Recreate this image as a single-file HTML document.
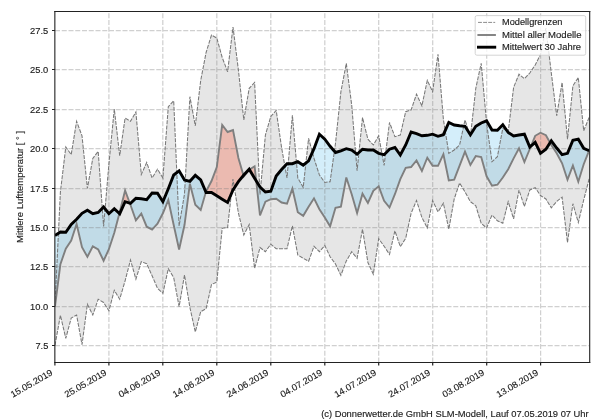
<!DOCTYPE html>
<html><head><meta charset="utf-8"><title>chart</title>
<style>html,body{margin:0;padding:0;background:#fff;width:600px;height:420px;overflow:hidden}</style></head>
<body>
<svg width="600" height="420" viewBox="0 0 600 420" style="position:absolute;left:0;top:0;will-change:transform;font-family:'Liberation Sans',sans-serif">
<rect width="600" height="420" fill="#fff"/>
<clipPath id="ax"><rect x="55.0" y="11.5" width="534.7" height="351.0"/></clipPath>
<g clip-path="url(#ax)">
<polygon points="55.0,305.0 60.4,192.0 65.8,147.0 71.2,154.6 76.6,121.3 82.0,135.8 87.4,188.4 92.8,158.4 98.2,151.4 103.6,226.5 108.9,164.0 114.3,109.0 119.7,155.8 125.1,118.0 130.5,121.3 135.9,112.0 141.3,174.5 146.7,162.5 152.1,178.0 157.5,169.2 162.9,178.0 168.3,106.7 173.7,100.8 179.1,226.0 184.5,194.0 189.9,96.7 195.3,125.8 200.7,80.5 206.1,52.5 211.5,35.0 216.8,38.0 222.2,57.5 227.6,71.7 233.0,27.0 238.4,70.0 243.8,120.0 249.2,88.3 254.6,82.5 260.0,194.5 265.4,135.0 270.8,116.5 276.2,110.5 281.6,147.7 287.0,178.0 292.4,115.2 297.8,178.0 303.2,187.5 308.6,138.3 314.0,158.3 319.4,175.0 324.8,182.5 330.1,181.7 335.5,143.3 340.9,91.7 346.3,63.4 351.7,105.0 357.1,170.8 362.5,117.5 367.9,139.2 373.3,145.0 378.7,135.8 384.1,165.4 389.5,122.5 394.9,136.7 400.3,135.0 405.7,111.7 411.1,110.0 416.5,94.2 421.9,105.8 427.3,80.3 432.6,91.7 438.0,54.2 443.4,119.5 448.8,153.3 454.2,150.0 459.6,145.0 465.0,120.0 470.4,136.7 475.8,88.3 481.2,63.3 486.6,123.3 492.0,161.7 497.4,156.7 502.8,128.3 508.2,131.7 513.6,87.5 519.0,74.2 524.4,78.7 529.8,73.0 535.2,65.0 540.5,54.5 545.9,28.0 551.3,73.0 556.7,115.8 562.1,82.5 567.5,139.2 572.9,85.8 578.3,77.5 583.7,130.8 589.1,117.5 589.1,179.0 583.7,200.0 578.3,222.5 572.9,203.7 567.5,242.5 562.1,197.2 556.7,201.5 551.3,207.8 545.9,199.0 540.5,195.5 535.2,187.7 529.8,190.0 524.4,206.5 519.0,190.0 513.6,218.8 508.2,201.7 502.8,223.3 497.4,220.8 492.0,215.0 486.6,228.0 481.2,223.3 475.8,205.8 470.4,201.6 465.0,192.0 459.6,183.0 454.2,199.0 448.8,229.2 443.4,203.2 438.0,212.0 432.6,200.5 427.3,228.0 421.9,217.5 416.5,200.5 411.1,213.3 405.7,238.3 400.3,246.7 394.9,230.8 389.5,254.4 384.1,246.2 378.7,238.7 373.3,274.2 367.9,262.5 362.5,229.2 357.1,258.3 351.7,251.7 346.3,261.0 340.9,275.3 335.5,264.0 330.1,256.7 324.8,245.5 319.4,251.7 314.0,246.3 308.6,261.3 303.2,258.3 297.8,255.0 292.4,225.8 287.0,248.7 281.6,248.7 276.2,248.7 270.8,244.2 265.4,251.7 260.0,247.5 254.6,268.3 249.2,224.5 243.8,235.0 238.4,213.0 233.0,179.0 227.6,227.5 222.2,228.3 216.8,282.0 211.5,284.5 206.1,308.7 200.7,311.7 195.3,332.0 189.9,307.5 184.5,275.0 179.1,306.7 173.7,277.5 168.3,268.7 162.9,293.2 157.5,288.3 152.1,275.8 146.7,263.7 141.3,261.7 135.9,279.2 130.5,260.0 125.1,280.8 119.7,299.2 114.3,290.3 108.9,310.8 103.6,302.5 98.2,299.2 92.8,315.0 87.4,304.2 82.0,344.7 76.6,315.0 71.2,318.0 65.8,338.3 60.4,315.3 55.0,345.3" fill="#e6e6e6"/>
<path d="M55.0,235.5 L60.4,232.0 L65.8,232.3 L71.2,224.5 L76.6,219.2 L82.0,213.3 L87.4,210.3 L92.8,213.7 L98.2,212.5 L103.6,207.0 L108.9,213.7 L114.3,208.7 L119.4,213.4 L119.4,213.4 L114.3,232.7 L108.9,249.2 L103.6,260.7 L98.2,249.5 L92.8,246.4 L87.4,256.8 L82.0,247.2 L76.6,224.0 L71.2,240.6 L65.8,248.6 L60.4,264.2 L55.0,306.5Z M129.8,203.1 L130.5,203.3 L135.9,198.3 L141.3,198.7 L146.7,199.7 L152.1,193.0 L157.5,193.2 L162.9,201.7 L168.3,188.7 L173.7,175.0 L179.1,170.8 L184.5,180.0 L189.9,181.3 L195.3,175.3 L200.7,180.0 L205.9,192.0 L205.9,192.0 L200.7,210.0 L195.3,204.7 L189.9,183.7 L184.5,225.0 L179.1,249.5 L173.7,225.0 L168.3,200.0 L162.9,213.3 L157.5,223.7 L152.1,229.6 L146.7,226.7 L141.3,213.7 L135.9,220.3 L130.5,205.0 L129.8,203.1Z M243.5,175.4 L243.8,175.0 L249.2,169.2 L249.4,169.5 L249.4,169.5 L249.2,169.6 L243.8,176.5 L243.5,175.4Z M256.2,180.9 L260.0,187.0 L265.4,192.0 L270.8,191.3 L276.2,176.0 L281.6,169.5 L287.0,163.7 L292.4,163.7 L297.8,161.7 L303.2,165.2 L308.6,160.8 L314.0,148.7 L319.4,134.2 L324.8,139.2 L330.1,146.3 L335.5,152.5 L340.9,150.8 L346.3,148.7 L351.7,150.0 L357.1,154.2 L362.5,149.2 L367.9,150.0 L373.3,150.0 L378.7,153.3 L384.1,154.7 L389.5,149.2 L394.9,147.5 L400.3,155.0 L405.7,145.0 L411.1,132.0 L416.5,133.7 L421.9,135.8 L427.3,135.3 L432.6,134.2 L438.0,136.3 L443.4,134.7 L448.8,122.5 L454.2,125.0 L459.6,125.8 L465.0,126.3 L470.4,134.7 L475.8,126.3 L481.2,123.0 L486.6,120.8 L492.0,130.0 L497.4,130.3 L502.8,124.7 L508.2,132.5 L513.6,136.0 L519.0,135.0 L524.4,134.2 L529.8,147.0 L531.0,145.9 L531.0,145.9 L529.8,149.0 L524.4,162.0 L519.0,148.2 L513.6,158.4 L508.2,169.2 L502.8,177.5 L497.4,184.7 L492.0,185.8 L486.6,176.3 L481.2,157.0 L475.8,156.0 L470.4,165.0 L465.0,151.7 L459.6,165.7 L454.2,179.7 L448.8,180.5 L443.4,154.2 L438.0,165.8 L432.6,165.8 L427.3,157.7 L421.9,171.0 L416.5,160.5 L411.1,167.0 L405.7,167.8 L400.3,179.2 L394.9,194.2 L389.5,207.5 L384.1,200.8 L378.7,186.3 L373.3,190.8 L367.9,203.0 L362.5,193.7 L357.1,213.0 L351.7,194.2 L346.3,177.5 L340.9,206.7 L335.5,207.8 L330.1,226.3 L324.8,217.5 L319.4,209.2 L314.0,198.3 L308.6,206.7 L303.2,215.8 L297.8,212.2 L292.4,188.7 L287.0,203.7 L281.6,202.5 L276.2,198.7 L270.8,199.2 L265.4,201.7 L260.0,215.5 L256.2,180.9Z M550.1,142.7 L551.3,140.8 L556.7,148.0 L562.1,154.7 L567.5,153.3 L572.9,140.3 L578.3,139.2 L583.7,148.3 L589.0,150.8 L589.0,150.8 L583.7,164.2 L578.3,181.7 L572.9,165.5 L567.5,179.7 L562.1,163.3 L556.7,153.3 L551.3,145.0 L550.1,142.7Z" fill="rgba(83,187,235,0.25)"/>
<path d="M119.4,213.4 L119.7,213.7 L125.1,201.7 L129.8,203.1 L129.8,203.1 L125.1,190.5 L119.7,212.3 L119.4,213.4Z M205.9,192.0 L206.1,192.5 L211.5,192.5 L216.8,195.8 L222.2,199.2 L227.6,202.5 L233.0,190.0 L238.4,181.7 L243.5,175.4 L243.5,175.4 L238.4,158.0 L233.0,130.0 L227.6,132.0 L222.2,125.0 L216.8,167.0 L211.5,181.0 L206.1,191.3 L205.9,192.0Z M249.4,169.5 L254.6,178.3 L256.2,180.9 L256.2,180.9 L254.6,166.3 L249.4,169.5Z M531.0,145.9 L535.2,142.3 L540.5,153.3 L545.9,149.2 L550.1,142.7 L550.1,142.7 L545.9,135.2 L540.5,132.7 L535.2,135.8 L531.0,145.9Z M589.0,150.8 L589.1,150.8 L589.1,150.6 L589.0,150.8Z" fill="rgba(252,55,15,0.25)"/>
<path d="M55.0,345.5H589.7 M55.0,306.5H589.7 M55.0,266.5H589.7 M55.0,227.5H589.7 M55.0,188.5H589.7 M55.0,148.5H589.7 M55.0,109.5H589.7 M55.0,69.5H589.7 M55.0,30.5H589.7 M108.9,362.5V11.5 M162.8,362.5V11.5 M216.8,362.5V11.5 M270.8,362.5V11.5 M324.8,362.5V11.5 M378.7,362.5V11.5 M432.7,362.5V11.5 M486.7,362.5V11.5 M540.6,362.5V11.5" fill="none" stroke="rgba(128,128,128,0.37)" stroke-width="1.25" stroke-dasharray="5 1.75"/>
<polyline points="55.0,305.0 60.4,192.0 65.8,147.0 71.2,154.6 76.6,121.3 82.0,135.8 87.4,188.4 92.8,158.4 98.2,151.4 103.6,226.5 108.9,164.0 114.3,109.0 119.7,155.8 125.1,118.0 130.5,121.3 135.9,112.0 141.3,174.5 146.7,162.5 152.1,178.0 157.5,169.2 162.9,178.0 168.3,106.7 173.7,100.8 179.1,226.0 184.5,194.0 189.9,96.7 195.3,125.8 200.7,80.5 206.1,52.5 211.5,35.0 216.8,38.0 222.2,57.5 227.6,71.7 233.0,27.0 238.4,70.0 243.8,120.0 249.2,88.3 254.6,82.5 260.0,194.5 265.4,135.0 270.8,116.5 276.2,110.5 281.6,147.7 287.0,178.0 292.4,115.2 297.8,178.0 303.2,187.5 308.6,138.3 314.0,158.3 319.4,175.0 324.8,182.5 330.1,181.7 335.5,143.3 340.9,91.7 346.3,63.4 351.7,105.0 357.1,170.8 362.5,117.5 367.9,139.2 373.3,145.0 378.7,135.8 384.1,165.4 389.5,122.5 394.9,136.7 400.3,135.0 405.7,111.7 411.1,110.0 416.5,94.2 421.9,105.8 427.3,80.3 432.6,91.7 438.0,54.2 443.4,119.5 448.8,153.3 454.2,150.0 459.6,145.0 465.0,120.0 470.4,136.7 475.8,88.3 481.2,63.3 486.6,123.3 492.0,161.7 497.4,156.7 502.8,128.3 508.2,131.7 513.6,87.5 519.0,74.2 524.4,78.7 529.8,73.0 535.2,65.0 540.5,54.5 545.9,28.0 551.3,73.0 556.7,115.8 562.1,82.5 567.5,139.2 572.9,85.8 578.3,77.5 583.7,130.8 589.1,117.5" fill="none" stroke="#787878" stroke-width="1.05" stroke-dasharray="4 1.25" stroke-linejoin="miter"/>
<polyline points="55.0,345.3 60.4,315.3 65.8,338.3 71.2,318.0 76.6,315.0 82.0,344.7 87.4,304.2 92.8,315.0 98.2,299.2 103.6,302.5 108.9,310.8 114.3,290.3 119.7,299.2 125.1,280.8 130.5,260.0 135.9,279.2 141.3,261.7 146.7,263.7 152.1,275.8 157.5,288.3 162.9,293.2 168.3,268.7 173.7,277.5 179.1,306.7 184.5,275.0 189.9,307.5 195.3,332.0 200.7,311.7 206.1,308.7 211.5,284.5 216.8,282.0 222.2,228.3 227.6,227.5 233.0,179.0 238.4,213.0 243.8,235.0 249.2,224.5 254.6,268.3 260.0,247.5 265.4,251.7 270.8,244.2 276.2,248.7 281.6,248.7 287.0,248.7 292.4,225.8 297.8,255.0 303.2,258.3 308.6,261.3 314.0,246.3 319.4,251.7 324.8,245.5 330.1,256.7 335.5,264.0 340.9,275.3 346.3,261.0 351.7,251.7 357.1,258.3 362.5,229.2 367.9,262.5 373.3,274.2 378.7,238.7 384.1,246.2 389.5,254.4 394.9,230.8 400.3,246.7 405.7,238.3 411.1,213.3 416.5,200.5 421.9,217.5 427.3,228.0 432.6,200.5 438.0,212.0 443.4,203.2 448.8,229.2 454.2,199.0 459.6,183.0 465.0,192.0 470.4,201.6 475.8,205.8 481.2,223.3 486.6,228.0 492.0,215.0 497.4,220.8 502.8,223.3 508.2,201.7 513.6,218.8 519.0,190.0 524.4,206.5 529.8,190.0 535.2,187.7 540.5,195.5 545.9,199.0 551.3,207.8 556.7,201.5 562.1,197.2 567.5,242.5 572.9,203.7 578.3,222.5 583.7,200.0 589.1,179.0" fill="none" stroke="#787878" stroke-width="1.05" stroke-dasharray="4 1.25" stroke-linejoin="miter"/>
<polyline points="55.0,306.5 60.4,264.2 65.8,248.6 71.2,240.6 76.6,224.0 82.0,247.2 87.4,256.8 92.8,246.4 98.2,249.5 103.6,260.7 108.9,249.2 114.3,232.7 119.7,212.3 125.1,190.5 130.5,205.0 135.9,220.3 141.3,213.7 146.7,226.7 152.1,229.6 157.5,223.7 162.9,213.3 168.3,200.0 173.7,225.0 179.1,249.5 184.5,225.0 189.9,183.7 195.3,204.7 200.7,210.0 206.1,191.3 211.5,181.0 216.8,167.0 222.2,125.0 227.6,132.0 233.0,130.0 238.4,158.0 243.8,176.5 249.2,169.6 254.6,166.3 260.0,215.5 265.4,201.7 270.8,199.2 276.2,198.7 281.6,202.5 287.0,203.7 292.4,188.7 297.8,212.2 303.2,215.8 308.6,206.7 314.0,198.3 319.4,209.2 324.8,217.5 330.1,226.3 335.5,207.8 340.9,206.7 346.3,177.5 351.7,194.2 357.1,213.0 362.5,193.7 367.9,203.0 373.3,190.8 378.7,186.3 384.1,200.8 389.5,207.5 394.9,194.2 400.3,179.2 405.7,167.8 411.1,167.0 416.5,160.5 421.9,171.0 427.3,157.7 432.6,165.8 438.0,165.8 443.4,154.2 448.8,180.5 454.2,179.7 459.6,165.7 465.0,151.7 470.4,165.0 475.8,156.0 481.2,157.0 486.6,176.3 492.0,185.8 497.4,184.7 502.8,177.5 508.2,169.2 513.6,158.4 519.0,148.2 524.4,162.0 529.8,149.0 535.2,135.8 540.5,132.7 545.9,135.2 551.3,145.0 556.7,153.3 562.1,163.3 567.5,179.7 572.9,165.5 578.3,181.7 583.7,164.2 589.1,150.6" fill="none" stroke="#7f7f7f" stroke-width="1.9" stroke-linejoin="miter" stroke-linecap="butt"/>
<polyline points="55.0,235.5 60.4,232.0 65.8,232.3 71.2,224.5 76.6,219.2 82.0,213.3 87.4,210.3 92.8,213.7 98.2,212.5 103.6,207.0 108.9,213.7 114.3,208.7 119.7,213.7 125.1,201.7 130.5,203.3 135.9,198.3 141.3,198.7 146.7,199.7 152.1,193.0 157.5,193.2 162.9,201.7 168.3,188.7 173.7,175.0 179.1,170.8 184.5,180.0 189.9,181.3 195.3,175.3 200.7,180.0 206.1,192.5 211.5,192.5 216.8,195.8 222.2,199.2 227.6,202.5 233.0,190.0 238.4,181.7 243.8,175.0 249.2,169.2 254.6,178.3 260.0,187.0 265.4,192.0 270.8,191.3 276.2,176.0 281.6,169.5 287.0,163.7 292.4,163.7 297.8,161.7 303.2,165.2 308.6,160.8 314.0,148.7 319.4,134.2 324.8,139.2 330.1,146.3 335.5,152.5 340.9,150.8 346.3,148.7 351.7,150.0 357.1,154.2 362.5,149.2 367.9,150.0 373.3,150.0 378.7,153.3 384.1,154.7 389.5,149.2 394.9,147.5 400.3,155.0 405.7,145.0 411.1,132.0 416.5,133.7 421.9,135.8 427.3,135.3 432.6,134.2 438.0,136.3 443.4,134.7 448.8,122.5 454.2,125.0 459.6,125.8 465.0,126.3 470.4,134.7 475.8,126.3 481.2,123.0 486.6,120.8 492.0,130.0 497.4,130.3 502.8,124.7 508.2,132.5 513.6,136.0 519.0,135.0 524.4,134.2 529.8,147.0 535.2,142.3 540.5,153.3 545.9,149.2 551.3,140.8 556.7,148.0 562.1,154.7 567.5,153.3 572.9,140.3 578.3,139.2 583.7,148.3 589.1,150.8" fill="none" stroke="#000" stroke-width="2.9" stroke-linejoin="miter" stroke-linecap="butt"/>
</g>
<path d="M54.3,11.5H590.3M54.3,362.5H590.3" fill="none" stroke="#222" stroke-width="1"/>
<path d="M54.85,11V363M589.7,11V363" fill="none" stroke="#222" stroke-width="1.1"/>
<path d="M55.0,345.5h-3 M55.0,306.5h-3 M55.0,266.5h-3 M55.0,227.5h-3 M55.0,188.5h-3 M55.0,148.5h-3 M55.0,109.5h-3 M55.0,69.5h-3 M55.0,30.5h-3 M54.9,362.5v3 M108.9,362.5v3 M162.8,362.5v3 M216.8,362.5v3 M270.8,362.5v3 M324.8,362.5v3 M378.7,362.5v3 M432.7,362.5v3 M486.7,362.5v3 M540.6,362.5v3" fill="none" stroke="#222" stroke-width="1.2"/>
<text x="48.3" y="348.7" text-anchor="end" font-size="9.0" fill="#1c1c1c" stroke="#1c1c1c" stroke-width="0.14" textLength="12.9" lengthAdjust="spacingAndGlyphs">7.5</text>
<text x="48.3" y="309.7" text-anchor="end" font-size="9.0" fill="#1c1c1c" stroke="#1c1c1c" stroke-width="0.14" textLength="18.2" lengthAdjust="spacingAndGlyphs">10.0</text>
<text x="48.3" y="269.7" text-anchor="end" font-size="9.0" fill="#1c1c1c" stroke="#1c1c1c" stroke-width="0.14" textLength="18.2" lengthAdjust="spacingAndGlyphs">12.5</text>
<text x="48.3" y="230.7" text-anchor="end" font-size="9.0" fill="#1c1c1c" stroke="#1c1c1c" stroke-width="0.14" textLength="18.2" lengthAdjust="spacingAndGlyphs">15.0</text>
<text x="48.3" y="191.7" text-anchor="end" font-size="9.0" fill="#1c1c1c" stroke="#1c1c1c" stroke-width="0.14" textLength="18.2" lengthAdjust="spacingAndGlyphs">17.5</text>
<text x="48.3" y="151.7" text-anchor="end" font-size="9.0" fill="#1c1c1c" stroke="#1c1c1c" stroke-width="0.14" textLength="18.2" lengthAdjust="spacingAndGlyphs">20.0</text>
<text x="48.3" y="112.7" text-anchor="end" font-size="9.0" fill="#1c1c1c" stroke="#1c1c1c" stroke-width="0.14" textLength="18.2" lengthAdjust="spacingAndGlyphs">22.5</text>
<text x="48.3" y="72.7" text-anchor="end" font-size="9.0" fill="#1c1c1c" stroke="#1c1c1c" stroke-width="0.14" textLength="18.2" lengthAdjust="spacingAndGlyphs">25.0</text>
<text x="48.3" y="33.7" text-anchor="end" font-size="9.0" fill="#1c1c1c" stroke="#1c1c1c" stroke-width="0.14" textLength="18.2" lengthAdjust="spacingAndGlyphs">27.5</text>
<text transform="translate(53.3,374.4) rotate(-30)" text-anchor="end" font-size="9.0" fill="#1c1c1c" stroke="#1c1c1c" stroke-width="0.14" textLength="46.8" lengthAdjust="spacingAndGlyphs">15.05.2019</text>
<text transform="translate(107.3,374.4) rotate(-30)" text-anchor="end" font-size="9.0" fill="#1c1c1c" stroke="#1c1c1c" stroke-width="0.14" textLength="46.8" lengthAdjust="spacingAndGlyphs">25.05.2019</text>
<text transform="translate(161.2,374.4) rotate(-30)" text-anchor="end" font-size="9.0" fill="#1c1c1c" stroke="#1c1c1c" stroke-width="0.14" textLength="46.8" lengthAdjust="spacingAndGlyphs">04.06.2019</text>
<text transform="translate(215.2,374.4) rotate(-30)" text-anchor="end" font-size="9.0" fill="#1c1c1c" stroke="#1c1c1c" stroke-width="0.14" textLength="46.8" lengthAdjust="spacingAndGlyphs">14.06.2019</text>
<text transform="translate(269.2,374.4) rotate(-30)" text-anchor="end" font-size="9.0" fill="#1c1c1c" stroke="#1c1c1c" stroke-width="0.14" textLength="46.8" lengthAdjust="spacingAndGlyphs">24.06.2019</text>
<text transform="translate(323.1,374.4) rotate(-30)" text-anchor="end" font-size="9.0" fill="#1c1c1c" stroke="#1c1c1c" stroke-width="0.14" textLength="46.8" lengthAdjust="spacingAndGlyphs">04.07.2019</text>
<text transform="translate(377.1,374.4) rotate(-30)" text-anchor="end" font-size="9.0" fill="#1c1c1c" stroke="#1c1c1c" stroke-width="0.14" textLength="46.8" lengthAdjust="spacingAndGlyphs">14.07.2019</text>
<text transform="translate(431.1,374.4) rotate(-30)" text-anchor="end" font-size="9.0" fill="#1c1c1c" stroke="#1c1c1c" stroke-width="0.14" textLength="46.8" lengthAdjust="spacingAndGlyphs">24.07.2019</text>
<text transform="translate(485.1,374.4) rotate(-30)" text-anchor="end" font-size="9.0" fill="#1c1c1c" stroke="#1c1c1c" stroke-width="0.14" textLength="46.8" lengthAdjust="spacingAndGlyphs">03.08.2019</text>
<text transform="translate(539.0,374.4) rotate(-30)" text-anchor="end" font-size="9.0" fill="#1c1c1c" stroke="#1c1c1c" stroke-width="0.14" textLength="46.8" lengthAdjust="spacingAndGlyphs">13.08.2019</text>
<text transform="translate(23.2,187) rotate(-90)" text-anchor="middle" font-size="9.0" fill="#1c1c1c" stroke="#1c1c1c" stroke-width="0.14" textLength="112" lengthAdjust="spacingAndGlyphs">Mittlere Lufttemperatur [ &#176; ]</text>
<text x="588.7" y="417.4" text-anchor="end" font-size="9.0" fill="#1c1c1c" stroke="#1c1c1c" stroke-width="0.14" textLength="267.5" lengthAdjust="spacingAndGlyphs">(c) Donnerwetter.de GmbH SLM-Modell, Lauf 07.05.2019 07 Uhr</text>
<rect x="475.2" y="15.6" width="110.5" height="39.6" rx="1.7" fill="#fff" fill-opacity="0.8" stroke="#ccc" stroke-width="0.85"/>
<path d="M478,22.4h17.2" stroke="#8c8c8c" stroke-width="1" stroke-dasharray="3.9 1.2" fill="none"/>
<path d="M477.4,35h18.5" stroke="#7f7f7f" stroke-width="1.9" fill="none"/>
<path d="M477,47.2h19.2" stroke="#000" stroke-width="2.9" fill="none"/>
<text x="502" y="25.2" font-size="9.0" fill="#1c1c1c" stroke="#1c1c1c" stroke-width="0.14" textLength="60.5" lengthAdjust="spacingAndGlyphs">Modellgrenzen</text>
<text x="502" y="37.5" font-size="9.0" fill="#1c1c1c" stroke="#1c1c1c" stroke-width="0.14" textLength="79.5" lengthAdjust="spacingAndGlyphs">Mittel aller Modelle</text>
<text x="502" y="49.7" font-size="9.0" fill="#1c1c1c" stroke="#1c1c1c" stroke-width="0.14" textLength="79" lengthAdjust="spacingAndGlyphs">Mittelwert 30 Jahre</text>
</svg>
</body></html>
